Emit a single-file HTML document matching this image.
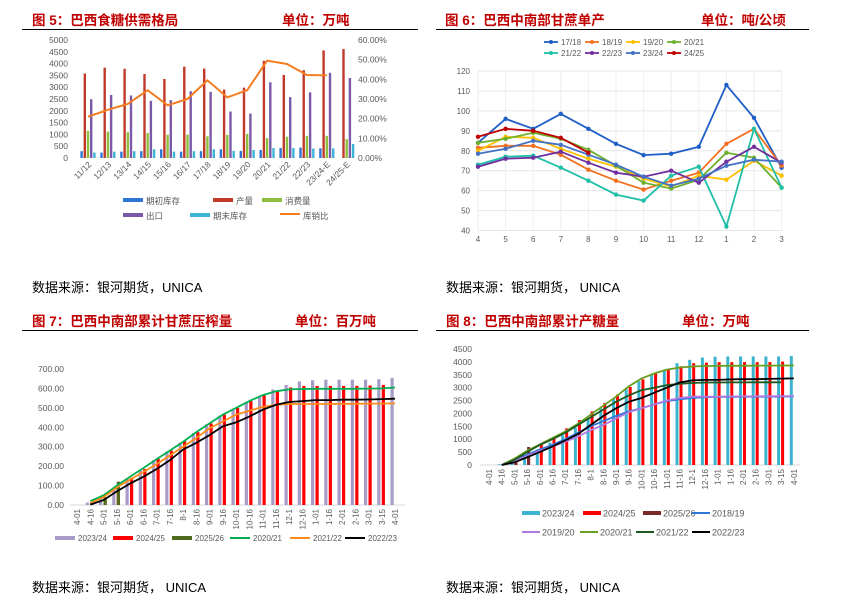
<!DOCTYPE html>
<html><head><meta charset="utf-8">
<style>
html,body{margin:0;padding:0;background:#fff;}
body{width:844px;height:601px;position:relative;overflow:hidden;font-family:"Liberation Sans","Noto Sans CJK SC",sans-serif;}
.t{position:absolute;font-weight:bold;color:#c00000;font-size:13.5px;white-space:nowrap;}
.src{position:absolute;font-size:13px;color:#000;white-space:nowrap;}
.ul{position:absolute;height:1px;background:#000;}
svg{position:absolute;left:0;top:0;}
</style></head><body>
<div class="t" style="left:32px;top:9px">图 5：巴西食糖供需格局</div>
<div class="t" style="left:282px;top:9px">单位：万吨</div>
<div class="ul" style="left:22px;top:29px;width:396px"></div>
<div class="t" style="left:445px;top:9px">图 6：巴西中南部甘蔗单产</div>
<div class="t" style="left:701px;top:9px">单位：吨/公顷</div>
<div class="ul" style="left:436px;top:29px;width:373px"></div>
<div class="src" style="left:32px;top:277px">数据来源：银河期货，UNICA</div>
<div class="src" style="left:446px;top:277px">数据来源：银河期货， UNICA</div>
<div class="t" style="left:32px;top:310px">图 7：巴西中南部累计甘蔗压榨量</div>
<div class="t" style="left:295px;top:310px">单位：百万吨</div>
<div class="ul" style="left:22px;top:330px;width:396px"></div>
<div class="t" style="left:446px;top:310px">图 8：巴西中南部累计产糖量</div>
<div class="t" style="left:682px;top:310px">单位：万吨</div>
<div class="ul" style="left:436px;top:330px;width:373px"></div>
<div class="src" style="left:32px;top:577px">数据来源：银河期货， UNICA</div>
<div class="src" style="left:446px;top:577px">数据来源：银河期货， UNICA</div>
<svg id="s" width="844" height="601"></svg>
<script>
// ---------- Fig 5 data ----------
const f5Cats=["11/12","12/13","13/14","14/15","15/16","16/17","17/18","18/19","19/20","20/21","21/22","22/23","23/24-E","24/25-E"];
const f5Begin=[290,230,270,290,370,270,290,370,300,340,420,440,410,0];
const f5Prod=[3580,3830,3780,3560,3350,3870,3790,2900,2980,4120,3520,3720,4560,4620];
const f5Cons=[1150,1120,1090,1060,990,990,920,980,1020,840,900,940,940,800];
const f5Exp=[2490,2670,2650,2420,2450,2830,2800,1970,1880,3210,2580,2780,3610,3390];
const f5End=[230,270,290,370,270,290,370,300,340,420,420,400,410,590];
const f5Ratio=[21,24.5,27.5,34.5,26.8,30,39.5,30.8,34.5,49.5,47.8,42.2,42,null];
const f5LeftTicks=[0,500,1000,1500,2000,2500,3000,3500,4000,4500,5000];
const f5RightTicks=["0.00%","10.00%","20.00%","30.00%","40.00%","50.00%","60.00%"];
// ---------- Fig 6 data ----------
const f6Months=["4","5","6","7","8","9","10","11","12","1","2","3"];
const f6Ticks=[40,50,60,70,80,90,100,110,120];
const f6Names=["17/18","18/19","19/20","20/21","21/22","22/23","23/24","24/25"];
const f6s1718=[84,96,91,98.5,91,83.5,77.8,78.5,82,113,96.5,71.5];
const f6s1819=[81.5,82.5,82.5,78,70.5,65,60.5,65,69,83.5,91,72.5];
const f6s1920=[80,87,86.5,81,76,72,66,62,67.5,65.5,75,67.5];
const f6s2021=[84,86,89,86,80.5,72.5,64,61,65.5,79,76.5,61.5];
const f6s2122=[73,77,77.5,71.5,65,58,55,67.5,72,42,91,61.5];
const f6s2223=[72,76,76.5,79.5,74,69,67,70,64,74.5,82,74];
const f6s2324=[78.5,81,85,83,78,73,67,62.5,66,72.5,75.5,74.5];
const f6s2425=[87,91,90,86.5,79];
// ---------- Fig 7 data ----------
const dates=["4-01","4-16","5-01","5-16","6-01","6-16","7-01","7-16","8-1","8-16","9-01","9-16","10-01","10-16","11-01","11-16","12-1","12-16","1-01","1-16","2-01","2-16","3-01","3-15","4-01"];
const f7Ticks=[0,100,200,300,400,500,600,700];
const f7b2324=[0,12,40,90,135,180,230,275,320,370,415,460,495,530,560,595,618,636,642,645,645,645,645,647,654];
const f7b2425=[0,10,30,85,140,185,238,280,330,375,420,465,500,535,565,588,605,613,613,613,613,613,615,618,null];
const f7b2526=[0,15,40,120];
const f7l2021=[null,20,50,100,145,190,235,280,325,375,420,465,500,535,565,585,595,597,598,598,598,598,599,600,605];
const f7l2122=[null,10,40,90,130,170,210,255,300,345,395,430,465,485,505,515,520,520,520,520,521,521,522,522,523];
const f7l2223=[null,2,25,70,110,145,185,230,285,320,360,405,425,455,490,515,530,535,540,540,542,542,543,545,547];
// ---------- Fig 8 data ----------
const f8Ticks=[0,500,1000,1500,2000,2500,3000,3500,4000,4500];
const f8b2324=[0,30,200,380,600,870,1150,1450,1800,2200,2600,2950,3250,3500,3700,3950,4080,4170,4200,4210,4210,4210,4210,4210,4230];
const f8b2425=[0,20,120,450,780,1060,1420,1740,2080,2400,2730,3030,3320,3560,3730,3830,3950,3970,3990,3990,3990,3990,3990,4010,null];
const f8b2526=[0,20,100,700];
const f8l1819=[null,0,200,400,600,780,1000,1250,1500,1700,1900,2080,2200,2350,2480,2550,2600,2630,2640,2640,2650,2650,2650,2655,2660];
const f8l1920=[null,0,150,350,550,720,900,1100,1350,1550,1800,2050,2200,2350,2500,2600,2650,2650,2655,2660,2660,2665,2665,2670,2670];
const f8l2021=[null,0,250,550,800,1050,1300,1600,1950,2300,2650,3050,3350,3550,3700,3780,3820,3840,3845,3850,3850,3855,3855,3860,3860];
const f8l2122=[null,0,200,500,780,1000,1250,1550,1850,2150,2450,2700,2900,3000,3100,3150,3180,3200,3200,3205,3205,3210,3210,3210,null];
const f8l2223=[null,0,100,300,500,720,950,1200,1550,1900,2200,2450,2600,2800,3000,3200,3280,3300,3300,3320,3330,3330,3340,3350,3360];

const S=document.getElementById('s');
const NS="http://www.w3.org/2000/svg";
function mk(tag,at,parent){const e=document.createElementNS(NS,tag);for(const k in at)e.setAttribute(k,at[k]);(parent||S).appendChild(e);return e;}
function txt(x,y,s,at){const e=mk('text',Object.assign({x:x,y:y,'font-size':9,fill:'#595959','font-family':'Liberation Sans, Noto Sans CJK SC, sans-serif'},at||{}));e.textContent=s;return e;}
function lineD(arr,fx,fy){let d="",st=false;arr.forEach((v,i)=>{if(v==null){st=false;return;}d+=(st?"L":"M")+fx(i).toFixed(1)+","+fy(v).toFixed(1);st=true;});return d;}

// ===== Fig 5 =====
(function(){
const yL=v=>158-v/5000*118, yR=v=>158-v/60*118, xC=i=>88+i*19.9;
f5LeftTicks.forEach(v=>{const t=txt(68,yL(v)+3,String(v),{'text-anchor':'end','font-size':8.5});

});
f5RightTicks.forEach((s,i)=>{const t=txt(358,yR(i*10)+3,s,{'font-size':8.5});

});
const series=[[f5Begin,'#2e75d6',-6.4],[f5Prod,'#c0392b',-3.2],[f5Cons,'#8fbf3f',0],[f5Exp,'#7a5aa8',3.2],[f5End,'#3cb4d8',6.4]];
series.forEach(([arr,c,o])=>arr.forEach((v,i)=>{if(!v)return;const r=mk('rect',{x:xC(i)+o-1.2,y:yL(v),width:2.4,height:158-yL(v),fill:c});

}));
const p=mk('path',{d:lineD(f5Ratio,xC,yR),fill:'none',stroke:'#f57c1f','stroke-width':2});


f5Cats.forEach((c,i)=>{const t=txt(xC(i)+4,165,c,{'text-anchor':'end','font-size':8.5,transform:`rotate(-45 ${xC(i)+4} 165)`});

});
const lg=[["期初库存",123,201,'#2e75d6'],["产量",213,201,'#c0392b'],["消费量",262,201,'#8fbf3f'],["出口",123,216,'#7a5aa8'],["期末库存",190,216,'#3cb4d8'],["库销比",280,216,'#f57c1f']];
lg.forEach(([s,x,y,c],i)=>{const r=mk('rect',{x:x,y:y-3,width:20,height:i==5?2:4,fill:c});


const t=txt(x+23,y+3,s,{'font-size':8.5});

});
})();

// ===== Fig 6 =====
(function(){
const y=v=>230.5-(v-40)/80*159.5, x=i=>478+i*27.6;
f6Ticks.forEach(v=>{const g=mk('line',{x1:478,x2:782,y1:y(v),y2:y(v),stroke:'#e6e6e6','stroke-width':1});


const t=txt(470,y(v)+3,String(v),{'text-anchor':'end','font-size':8});

});
f6Months.forEach((m,i)=>{const g=mk('line',{x1:x(i),x2:x(i),y1:71,y2:230.5,stroke:'#eeeeee'});


const t=txt(x(i),242,m,{'text-anchor':'middle','font-size':8});

});
const cols=['#1f5fc7','#f07020','#ffc000','#70b030','#20c0a8','#7030a0','#4472c4','#c00000'];
[f6s1718,f6s1819,f6s1920,f6s2021,f6s2122,f6s2223,f6s2324,f6s2425].forEach((arr,k)=>{
const p=mk('path',{d:lineD(arr,x,y),fill:'none',stroke:cols[k],'stroke-width':1.8});


arr.forEach((v,i)=>{const c=mk('circle',{cx:x(i),cy:y(v),r:2.2,fill:cols[k]});

});});
f6Names.forEach((n,k)=>{const lx=544+(k%4)*41, ly=k<4?42:53;
const l=mk('line',{x1:lx,x2:lx+14,y1:ly,y2:ly,stroke:cols[k],'stroke-width':1.8});


const c=mk('circle',{cx:lx+7,cy:ly,r:2,fill:cols[k]});


const t=txt(lx+17,ly+3,n,{'font-size':8});

});
})();

// ===== Fig 7 =====
(function(){
const y=v=>505-v/700*136, x=i=>77+i*13.25;
f7Ticks.forEach(v=>{const t=txt(64,y(v)+3,v.toFixed(2),{'text-anchor':'end','font-size':8.5});

});
const ax=mk('line',{x1:70,x2:405,y1:505,y2:505,stroke:'#d9d9d9'});


[[f7b2324,'#a99bc8',-3],[f7b2425,'#ff0000',1.5],[f7b2526,'#4f6a1a',1.5]].forEach(([arr,c,o])=>arr.forEach((v,i)=>{if(!v)return;
const r=mk('rect',{x:x(i)+o-1.5,y:y(v),width:3.2,height:505-y(v),fill:c});

}));
[[f7l2021,'#00b050'],[f7l2122,'#ff8c1a'],[f7l2223,'#000000']].forEach(([arr,c])=>{
const p=mk('path',{d:lineD(arr,x,y),fill:'none',stroke:c,'stroke-width':1.8});

});
dates.forEach((d,i)=>{const t=txt(x(i)+3,509,d,{'text-anchor':'end','font-size':8,transform:`rotate(-90 ${x(i)+3} 509)`});

});
const lg=[["2023/24",55,'#a99bc8',4],["2024/25",113,'#ff0000',4],["2025/26",172,'#4f6a1a',4],["2020/21",230,'#00b050',2],["2021/22",290,'#ff8c1a',2],["2022/23",345,'#000000',2]];
lg.forEach(([s,lx,c,h])=>{const r=mk('rect',{x:lx,y:538-h/2,width:20,height:h,fill:c});


const t=txt(lx+23,541,s,{'font-size':8});

});
})();

// ===== Fig 8 =====
(function(){
const y=v=>465-v/4500*116, x=i=>489+i*12.7;
f8Ticks.forEach(v=>{const t=txt(472,y(v)+3,String(v),{'text-anchor':'end','font-size':8.5});

});
const ax=mk('line',{x1:480,x2:800,y1:465,y2:465,stroke:'#d9d9d9'});


[[f8b2324,'#3cb4d0',-2.5],[f8b2425,'#ff0000',1.5],[f8b2526,'#7a2a2a',1.5]].forEach(([arr,c,o])=>arr.forEach((v,i)=>{if(!v)return;
const r=mk('rect',{x:x(i)+o-1.5,y:y(v),width:3,height:465-y(v),fill:c});

}));
[[f8l1819,'#2e75d6'],[f8l1920,'#b07ae0'],[f8l2021,'#6aa020'],[f8l2122,'#1e5a1e'],[f8l2223,'#000000']].forEach(([arr,c])=>{
const p=mk('path',{d:lineD(arr,x,y),fill:'none',stroke:c,'stroke-width':1.8});

});
dates.forEach((d,i)=>{const t=txt(x(i)+3,469,d,{'text-anchor':'end','font-size':8,transform:`rotate(-90 ${x(i)+3} 469)`});

});
const lg=[["2023/24",522,513,'#3cb4d0',4],["2024/25",583,513,'#ff0000',4],["2025/26",643,513,'#7a2a2a',4],["2018/19",692,513,'#2e75d6',2],["2019/20",522,532,'#b07ae0',2],["2020/21",580,532,'#6aa020',2],["2021/22",636,532,'#1e5a1e',2],["2022/23",692,532,'#000000',2]];
lg.forEach(([s,lx,ly,c,h])=>{const r=mk('rect',{x:lx,y:ly-h/2,width:18,height:h,fill:c});


const t=txt(lx+20,ly+3.5,s,{'font-size':9});

});
})();
</script>
</body></html>
